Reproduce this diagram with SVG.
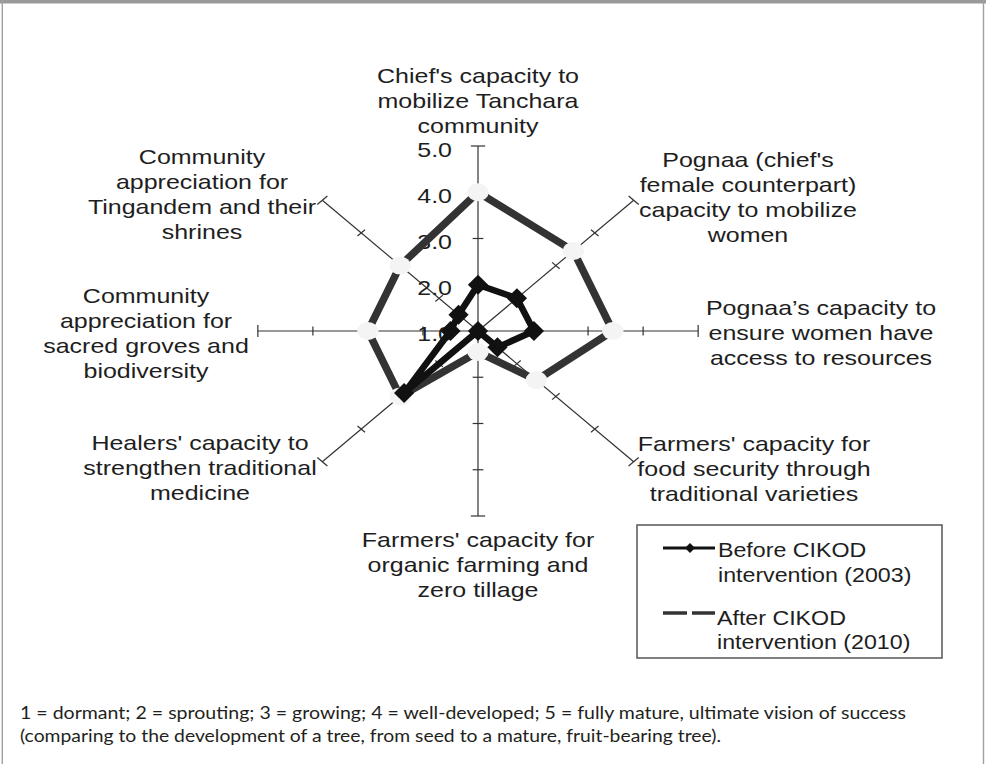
<svg xmlns="http://www.w3.org/2000/svg" xmlns:xlink="http://www.w3.org/1999/xlink" width="986" height="764" viewBox="0 0 986 764">
<style>
.ax{stroke:#333;stroke-width:1.2;fill:none;vector-effect:non-scaling-stroke}
.after{stroke:#333;stroke-width:7.5;fill:none;stroke-linejoin:round;vector-effect:non-scaling-stroke}
.before{stroke:#111;stroke-width:6.5;fill:none;stroke-linejoin:round;vector-effect:non-scaling-stroke}
.amk{fill:#f4f4f4}
.bmk{fill:#111}
.lbl{font-family:"Liberation Sans",Arial,sans-serif;font-size:21px;fill:#1e1e1e;text-anchor:middle}
.tick{font-family:"Liberation Sans",Arial,sans-serif;font-size:21px;fill:#1e1e1e;text-anchor:end}
.leg{font-family:"Liberation Sans",Arial,sans-serif;font-size:19.5px;fill:#1e1e1e}
.cap{font-family:Lato,"Noto Sans",sans-serif;font-size:17.5px;fill:#231f20}
</style>
<defs>
<g id="axis">
<line class="ax" x1="0" y1="0" x2="185" y2="0"/>
<line class="ax" x1="46.25" y1="-4.5" x2="46.25" y2="4.5"/>
<line class="ax" x1="92.5" y1="-4.5" x2="92.5" y2="4.5"/>
<line class="ax" x1="138.75" y1="-4.5" x2="138.75" y2="4.5"/>
<line class="ax" x1="185" y1="-6" x2="185" y2="6"/>
</g>
<path id="dia" d="M0,-10L8.5,0L0,10L-8.5,0Z"/>
</defs>
<rect x="0" y="0" width="986" height="764" fill="#ffffff"/>
<g id="frame">
<rect x="0" y="0" width="986" height="3.5" fill="#98999b"/>
<line x1="2.3" y1="0" x2="2.3" y2="764" stroke="#a0a0a0" stroke-width="1.4"/>
<line x1="983.5" y1="0" x2="983.5" y2="764" stroke="#a0a0a0" stroke-width="1.4"/>
</g>
<g id="axes" transform="translate(478 331) scale(1.19 1)">
<use xlink:href="#axis" transform="rotate(-90)"/>
<use xlink:href="#axis" transform="rotate(-45)"/>
<use xlink:href="#axis" transform="rotate(0)"/>
<use xlink:href="#axis" transform="rotate(45)"/>
<use xlink:href="#axis" transform="rotate(90)"/>
<use xlink:href="#axis" transform="rotate(135)"/>
<use xlink:href="#axis" transform="rotate(180)"/>
<use xlink:href="#axis" transform="rotate(225)"/>
</g>
<g id="scale-labels">
<text class="tick" transform="translate(452 157) scale(1.19 1)">5.0</text>
<text class="tick" transform="translate(452 203) scale(1.19 1)">4.0</text>
<text class="tick" transform="translate(452 249) scale(1.19 1)">3.0</text>
<text class="tick" transform="translate(452 295) scale(1.19 1)">2.0</text>
<text class="tick" transform="translate(452 341) scale(1.19 1)">1.0</text>
</g>
<g id="connectors" transform="translate(478 331) scale(1.19 1)">
<g id="series-after">
<polygon class="after" points="0,-138.75 80.1,-80.1 113.3,0 49.1,49.1 0,21 -65.4,65.4 -92.5,0 -65.4,-65.4"/>
<circle class="amk" cx="0" cy="-138.75" r="9"/>
<circle class="amk" cx="80.1" cy="-80.1" r="9"/>
<circle class="amk" cx="113.3" cy="0" r="9"/>
<circle class="amk" cx="49.1" cy="49.1" r="9"/>
<circle class="amk" cx="0" cy="21" r="9"/>
<circle class="amk" cx="-65.4" cy="65.4" r="9"/>
<circle class="amk" cx="-92.5" cy="0" r="9"/>
<circle class="amk" cx="-65.4" cy="-65.4" r="9"/>
</g>
<g id="series-before">
<polygon class="before" points="0,-46.25 32.7,-32.7 47,0 16.35,16.35 0,0 -62.1,62.1 -23.1,0 -16.35,-16.35"/>
<use xlink:href="#dia" class="bmk" transform="translate(0 -46.25)"/>
<use xlink:href="#dia" class="bmk" transform="translate(32.7 -32.7)"/>
<use xlink:href="#dia" class="bmk" transform="translate(47 0)"/>
<use xlink:href="#dia" class="bmk" transform="translate(16.35 16.35)"/>
<use xlink:href="#dia" class="bmk" transform="translate(0 0)"/>
<use xlink:href="#dia" class="bmk" transform="translate(-62.1 62.1)"/>
<use xlink:href="#dia" class="bmk" transform="translate(-23.1 0)"/>
<use xlink:href="#dia" class="bmk" transform="translate(-16.35 -16.35)"/>
</g>
</g>
<g id="node-chief">
<text class="lbl" transform="translate(478 83) scale(1.19 1)"><tspan x="0" y="0">Chief's capacity to</tspan><tspan x="0" y="25">mobilize Tanchara</tspan><tspan x="0" y="50">community</tspan></text>
</g>
<g id="node-pognaa">
<text class="lbl" transform="translate(748 167) scale(1.19 1)"><tspan x="0" y="0">Pognaa (chief's</tspan><tspan x="0" y="25">female counterpart)</tspan><tspan x="0" y="50">capacity to mobilize</tspan><tspan x="0" y="75">women</tspan></text>
</g>
<g id="node-pognaa-resources">
<text class="lbl" transform="translate(821 315) scale(1.19 1)"><tspan x="0" y="0">Pognaa’s capacity to</tspan><tspan x="0" y="25">ensure women have</tspan><tspan x="0" y="50">access to resources</tspan></text>
</g>
<g id="node-food-security">
<text class="lbl" transform="translate(754 451) scale(1.19 1)"><tspan x="0" y="0">Farmers' capacity for</tspan><tspan x="0" y="25">food security through</tspan><tspan x="0" y="50">traditional varieties</tspan></text>
</g>
<g id="node-organic">
<text class="lbl" transform="translate(478 547) scale(1.19 1)"><tspan x="0" y="0">Farmers' capacity for</tspan><tspan x="0" y="25">organic farming and</tspan><tspan x="0" y="50">zero tillage</tspan></text>
</g>
<g id="node-healers">
<text class="lbl" transform="translate(200 450) scale(1.19 1)"><tspan x="0" y="0">Healers' capacity to</tspan><tspan x="0" y="25">strengthen traditional</tspan><tspan x="0" y="50">medicine</tspan></text>
</g>
<g id="node-groves">
<text class="lbl" transform="translate(146 303) scale(1.19 1)"><tspan x="0" y="0">Community</tspan><tspan x="0" y="25">appreciation for</tspan><tspan x="0" y="50">sacred groves and</tspan><tspan x="0" y="75">biodiversity</tspan></text>
</g>
<g id="node-tingandem">
<text class="lbl" transform="translate(202 164) scale(1.19 1)"><tspan x="0" y="0">Community</tspan><tspan x="0" y="25">appreciation for</tspan><tspan x="0" y="50">Tingandem and their</tspan><tspan x="0" y="75">shrines</tspan></text>
</g>
<g id="legend">
<rect x="637" y="525" width="305" height="133" fill="#ffffff" stroke="#555" stroke-width="1.5"/>
<line x1="663" y1="548" x2="715" y2="548" stroke="#111" stroke-width="3"/>
<path d="M690,543L695,548L690,553L685,548Z" fill="#111"/>
<text class="leg" transform="translate(718 557) scale(1.19 1)"><tspan x="0" y="0">Before CIKOD</tspan><tspan x="0" y="25">intervention (2003)</tspan></text>
<line x1="663" y1="613" x2="687" y2="613" stroke="#333" stroke-width="3.5"/>
<line x1="692" y1="613" x2="715" y2="613" stroke="#333" stroke-width="3.5"/>
<text class="leg" transform="translate(717 625) scale(1.19 1)"><tspan x="0" y="0">After CIKOD</tspan><tspan x="0" y="24">intervention (2010)</tspan></text>
</g>
<g id="caption">
<text class="cap" x="20" y="719" textLength="886" lengthAdjust="spacingAndGlyphs">1 = dormant; 2 = sprouting; 3 = growing; 4 = well-developed; 5 = fully mature, ultimate vision of success</text>
<text class="cap" x="20" y="742" textLength="701" lengthAdjust="spacingAndGlyphs">(comparing to the development of a tree, from seed to a mature, fruit-bearing tree).</text>
</g>
</svg>
